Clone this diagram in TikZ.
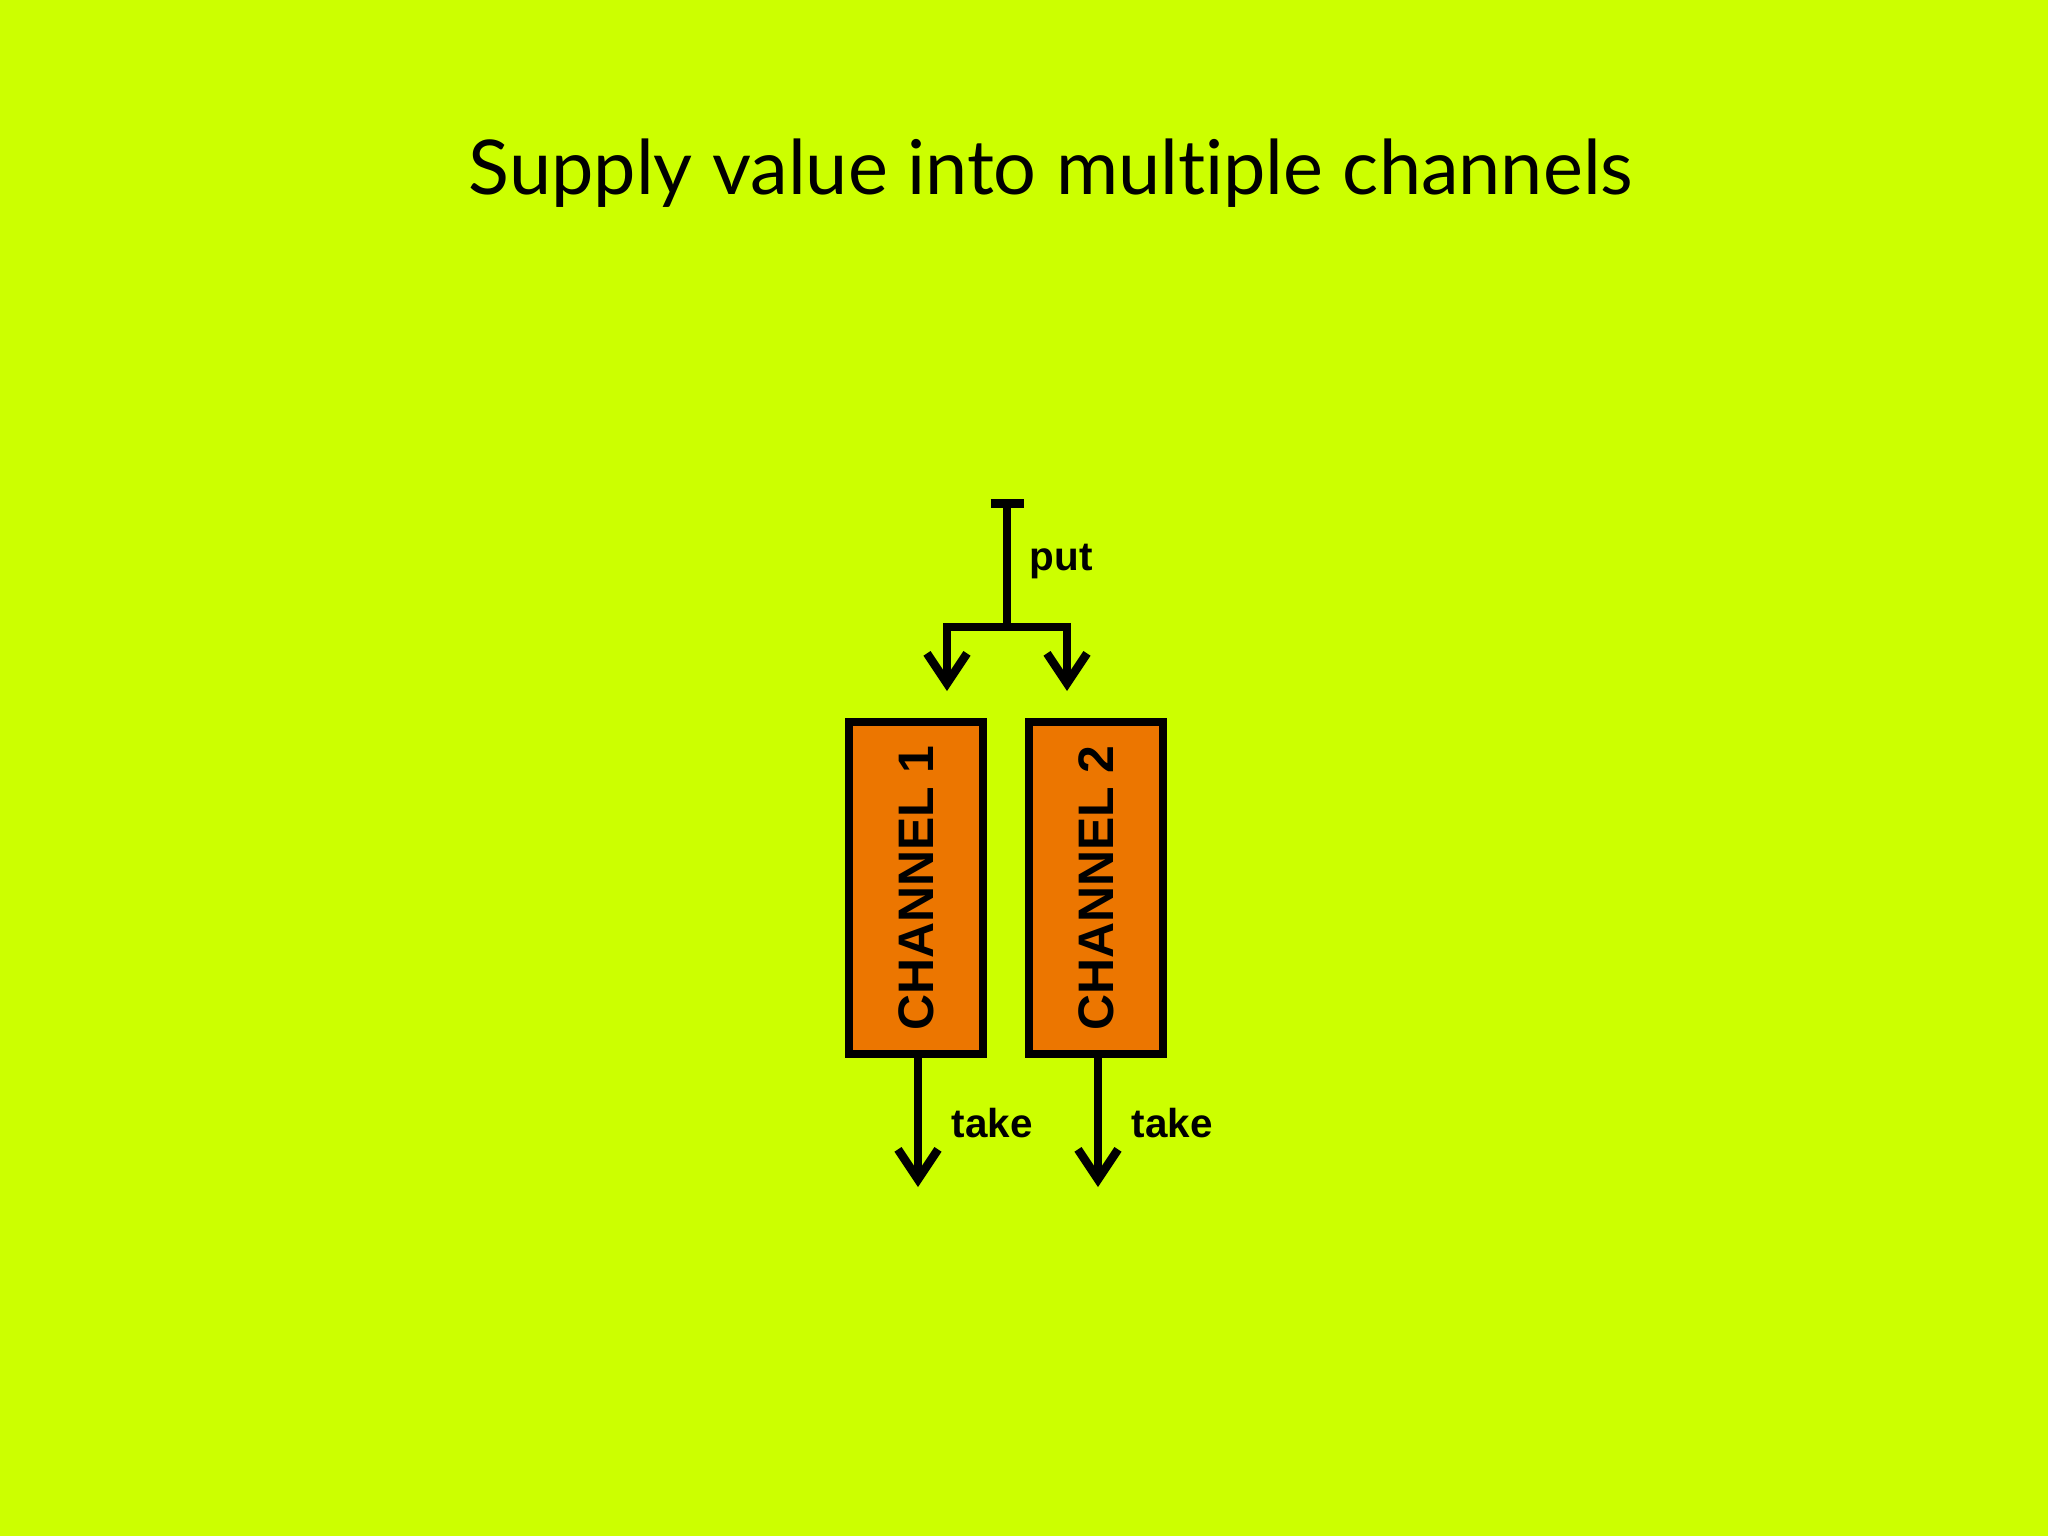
\documentclass[tikz,border=0pt]{standalone}
\usepackage{fontspec}
\setmainfont{Lato}[Ligatures=NoCommon]
\setsansfont{Liberation Sans}
\usetikzlibrary{arrows.meta}
\definecolor{lime}{RGB}{204,255,0}
\definecolor{chanorange}{RGB}{236,118,0}
\begin{document}
\begin{tikzpicture}[x=0.1mm,y=-0.1mm,
    wire/.style={line width=0.85mm,black,line join=miter},
    tip/.style={-{Straight Barb[length=3mm,width=4mm]}},
    channel/.style={draw,line width=0.8mm,fill=chanorange,inner sep=0pt,minimum width=13.4mm,minimum height=33.2mm,font=\sffamily\bfseries\fontsize{14.2}{15}\selectfont},
    lbl/.style={anchor=base west,inner sep=0pt,font=\sffamily\bfseries\fontsize{11.5}{12}\selectfont},
    heading/.style={anchor=base,inner sep=0pt,font=\fontsize{21.5}{24}\selectfont}]
    \fill[lime] (0,0) rectangle (2048,1536);
    \node[heading] (title) at (1051,194) {Supply value into multiple channels};
    \node[channel] (ch1) at (916,888) {\rotatebox{90}{CHANNEL 1}};
    \node[channel] (ch2) at (1096,888) {\rotatebox{90}{CHANNEL 2}};
    \coordinate (src) at (1007,499);
    \coordinate (split) at (1007,627);
    \coordinate (in1) at (947,691);
    \coordinate (in2) at (1067,691);
    \coordinate (out1) at (918,1187);
    \coordinate (out2) at (1098,1187);
    \draw[wire,{Bar[width=3.3mm]}-] (src)--(split);
    \draw[wire,tip] (split)-|(in1);
    \draw[wire,tip] (split)-|(in2);
    \draw[wire,tip] (ch1.south-|out1)--(out1);
    \draw[wire,tip] (ch2.south-|out2)--(out2);
    \node[lbl] (put) at (1029,570) {put};
    \node[lbl] (take1) at (951,1137) {take};
    \node[lbl] (take2) at (1131,1137) {take};
\end{tikzpicture}
\end{document}
